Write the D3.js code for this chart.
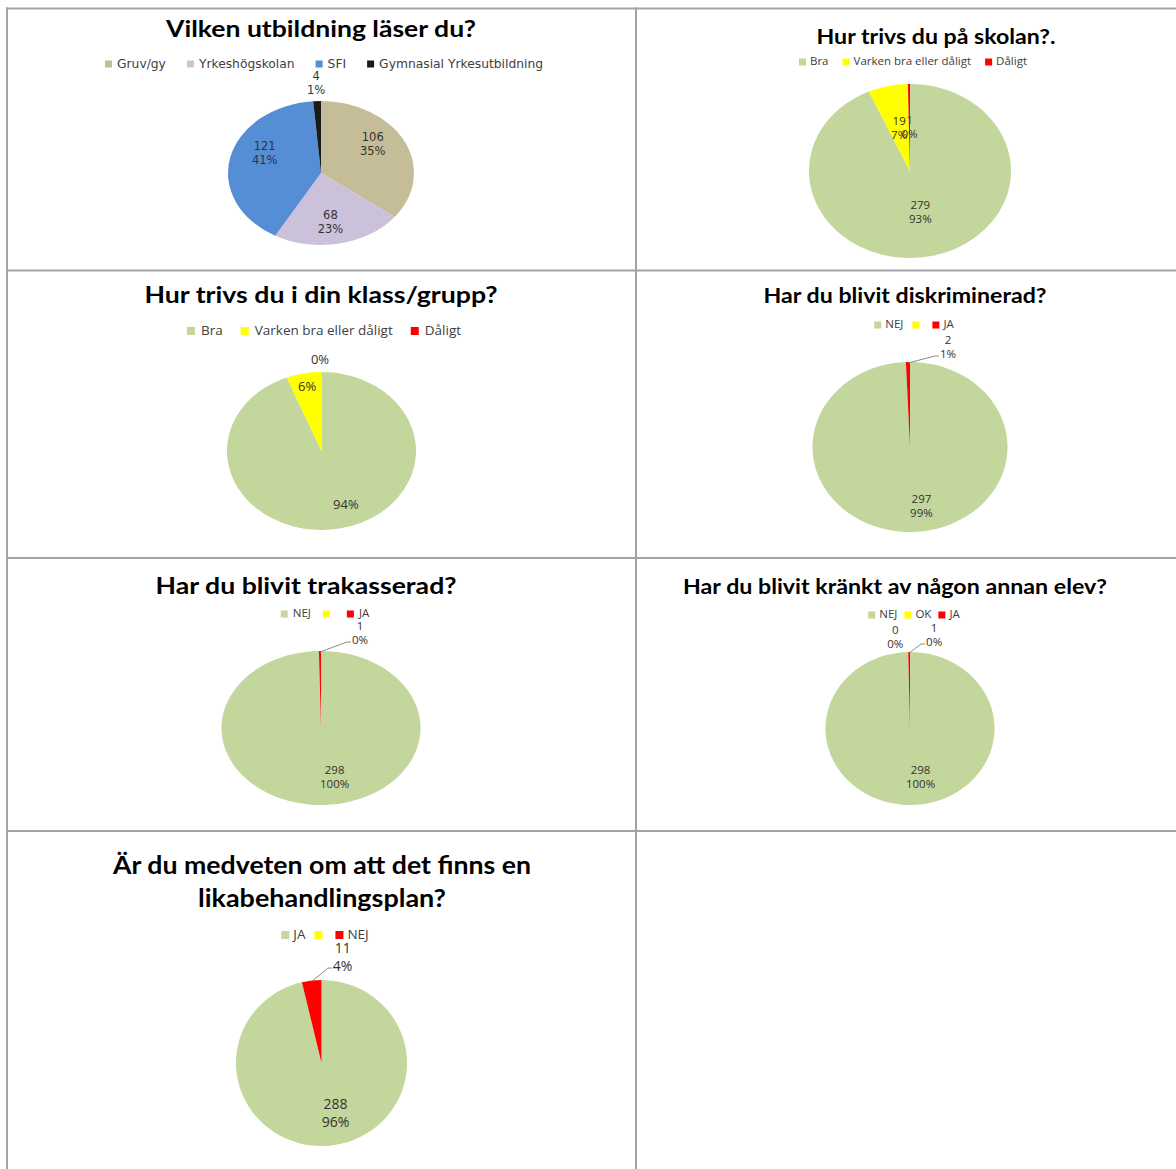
<!DOCTYPE html>
<html lang="sv">
<head>
<meta charset="UTF-8">
<title>Enkätresultat</title>
<script src="https://d3js.org/d3.v7.min.js"></script>
<style>
  body { margin: 0; background: #fff; }
  .title { font-family: Lato, "Open Sans", sans-serif; font-weight: bold; fill: #000; }
  .legend text { fill: #404040; }
  .label { fill: #333; }
</style>
</head>
<body>
<svg id="chart" width="1176" height="1169"></svg>
<script>
// --- data ---
const q1Labels = ["Gruv/gy", "Yrkeshögskolan", "SFI", "Gymnasial Yrkesutbildning"];
const q1Values = [106, 68, 121, 4];
const q1Pct = [35, 23, 41, 1];

const q2Labels = ["Bra", "Varken bra eller dåligt", "Dåligt"];
const q2Values = [279, 19, 1];
const q2Pct = [93, 7, 0];

const q3Labels = ["Bra", "Varken bra eller dåligt", "Dåligt"];
const q3Values = [94, 6, 0];
const q3Pct = [94, 6, 0];

const q4Labels = ["NEJ", "", "JA"];
const q4Values = [297, 0, 2];
const q4Pct = [99, 0, 1];

const q5Labels = ["NEJ", "", "JA"];
const q5Values = [298, 0, 1];
const q5Pct = [100, 0, 0];

const q6Labels = ["NEJ", "OK", "JA"];
const q6Values = [298, 0, 1];
const q6Pct = [100, 0, 0];

const q7Labels = ["JA", "", "NEJ"];
const q7Values = [288, 0, 11];
const q7Pct = [96, 0, 4];

const green = "#c3d69b", yellow = "#ffff00", red = "#ff0000";
const q1Colors = ["#c4bd97", "#ccc1da", "#558ed5", "#1a1a1a"];
const ynColors = [green, yellow, red];

// layout for each panel (the source images were stretched sideways, so titles get a fixed width)
const charts = [
  { title: ["Vilken utbildning läser du?"], titleW: [310], titleX: 321, titleY: 31, titleSize: 22,
    labels: q1Labels, values: q1Values, pct: q1Pct, colors: q1Colors,
    cx: 321, cy: 173, rx: 93, ry: 72, inFrac: 0.62,
    legendX: 324, legendY: 64, legendFont: "DejaVu Sans", legendSize: 12.3, sq: 7, pad: 5, gap: 21,
    labelFont: "DejaVu Sans", labelSize: 11.5, lead: 14, showValue: true,
    place: [{ at: "in", dx: 0, dy: -9 }, { at: "in", dx: -2, dy: 6 }, { at: "in", dx: 0, dy: -10 }, { at: "out", dx: -1, dy: -18 }] },
  { title: ["Hur trivs du på skolan?."], titleW: [239], titleX: 936, titleY: 39, titleSize: 20,
    labels: q2Labels, values: q2Values, pct: q2Pct, colors: ynColors,
    cx: 910, cy: 171, rx: 101, ry: 87, inFrac: 0.49,
    legendX: 913, legendY: 62, legendFont: "Open Sans", legendSize: 11.5, sq: 7, pad: 4, gap: 14,
    labelFont: "Open Sans", labelSize: 11.5, lead: 14, showValue: true,
    place: [{ at: "in", dx: 0, dy: 0 }, { at: "in", dx: 0, dy: 0 }, { at: "in", dx: 0, dy: 0 }] },
  { title: ["Hur trivs du i din klass/grupp?"], titleW: [353], titleX: 321, titleY: 297, titleSize: 22,
    labels: q3Labels, values: q3Values, pct: q3Pct, colors: ynColors,
    cx: 321.5, cy: 451, rx: 94.5, ry: 79, inFrac: 0.70,
    legendX: 324, legendY: 331, legendFont: "Open Sans", legendSize: 13.5, sq: 8, pad: 6, gap: 18,
    labelFont: "Open Sans", labelSize: 13, lead: 15, showValue: false,
    place: [{ at: "in", dx: 12, dy: 0 }, { at: "in", dx: -2, dy: -9 }, { at: "out", dx: -1.5, dy: -11 }] },
  { title: ["Har du blivit diskriminerad?"], titleW: [283], titleX: 905, titleY: 298, titleSize: 20,
    labels: q4Labels, values: q4Values, pct: q4Pct, colors: ynColors,
    cx: 910, cy: 447, rx: 97.5, ry: 85, inFrac: 0.70,
    legendX: 914, legendY: 325, legendFont: "Open Sans", legendSize: 11.5, sq: 7, pad: 4, gap: 9,
    labelFont: "Open Sans", labelSize: 11.5, lead: 14, showValue: true,
    place: [{ at: "in", dx: 10, dy: 0 }, null, { at: "out", dx: 40, dy: -14, leader: true }] },
  { title: ["Har du blivit trakasserad?"], titleW: [301], titleX: 306, titleY: 588, titleSize: 22,
    labels: q5Labels, values: q5Values, pct: q5Pct, colors: ynColors,
    cx: 321, cy: 728, rx: 99.5, ry: 77, inFrac: 0.65,
    legendX: 325, legendY: 614, legendFont: "Open Sans", legendSize: 11.5, sq: 7, pad: 5, gap: 12,
    labelFont: "Open Sans", labelSize: 11.5, lead: 14, showValue: true,
    place: [{ at: "in", dx: 13, dy: 0 }, null, { at: "out", dx: 40, dy: -17, leader: true }] },
  { title: ["Har du blivit kränkt av någon annan elev?"], titleW: [424], titleX: 895, titleY: 589, titleSize: 21,
    labels: q6Labels, values: q6Values, pct: q6Pct, colors: ynColors,
    cx: 910, cy: 728.5, rx: 84.5, ry: 76.5, inFrac: 0.64,
    legendX: 914, legendY: 615, legendFont: "Open Sans", legendSize: 11.5, sq: 7, pad: 4, gap: 7,
    labelFont: "Open Sans", labelSize: 11.5, lead: 14, showValue: true,
    place: [{ at: "in", dx: 10, dy: 0 }, { at: "out", dx: -13, dy: -14.5 }, { at: "out", dx: 25, dy: -16, leader: true }] },
  { title: ["Är du medveten om att det finns en", "likabehandlingsplan?"], titleW: [418, 248], titleX: 322, titleY: 868, titleSize: 25, titleLead: 33,
    labels: q7Labels, values: q7Values, pct: q7Pct, colors: ynColors,
    cx: 321.5, cy: 1063, rx: 85.5, ry: 83, inFrac: 0.62,
    legendX: 325, legendY: 935, legendFont: "Open Sans", legendSize: 13.5, sq: 8, pad: 4, gap: 9,
    labelFont: "Open Sans", labelSize: 14, lead: 18, showValue: true,
    place: [{ at: "in", dx: 8, dy: 0 }, null, { at: "out", dx: 31, dy: -22.5, leader: true }] }
];

const svg = d3.select("#chart");

// table grid behind the charts
const gridColor = "#a3a3a3";
const vLines = [7, 636];
const hLines = [8.5, 270.5, 558, 831];
svg.selectAll(".vline").data(vLines).join("line")
  .attr("x1", d => d).attr("x2", d => d).attr("y1", 7.5).attr("y2", 1169)
  .attr("stroke", gridColor).attr("stroke-width", 2);
svg.selectAll(".hline").data(hLines).join("line")
  .attr("y1", d => d).attr("y2", d => d).attr("x1", 6).attr("x2", 1176)
  .attr("stroke", gridColor).attr("stroke-width", 2);

function drawChart(c) {
  const g = svg.append("g");

  // title
  c.title.forEach((t, i) => {
    g.append("text").attr("class", "title")
      .attr("x", c.titleX).attr("y", c.titleY + i * (c.titleLead || 0))
      .attr("text-anchor", "middle").attr("dominant-baseline", "middle")
      .attr("textLength", c.titleW[i]).attr("lengthAdjust", "spacingAndGlyphs")
      .style("font-size", c.titleSize + "px").text(t);
  });

  // legend, centred on legendX
  const lg = g.append("g").attr("class", "legend")
    .style("font-family", c.legendFont).style("font-size", c.legendSize + "px");
  const items = c.labels.map((l, i) => {
    const it = lg.append("g");
    it.append("rect").attr("width", c.sq).attr("height", c.sq)
      .attr("y", c.legendY - c.sq / 2).attr("fill", c.colors[i]);
    const t = it.append("text").attr("x", c.sq + c.pad).attr("y", c.legendY)
      .attr("dominant-baseline", "middle").text(l);
    return { it, w: c.sq + c.pad + (l ? t.node().getComputedTextLength() : 0) };
  });
  const totalW = d3.sum(items, d => d.w) + c.gap * (items.length - 1);
  let x0 = c.legendX - totalW / 2;
  items.forEach(d => { d.it.attr("transform", `translate(${x0},0)`); x0 += d.w + c.gap; });

  // pie, squashed to an ellipse like the original
  const rows = c.labels.map((l, i) => ({ label: l, value: c.values[i], pct: c.pct[i], color: c.colors[i], place: c.place[i] }));
  const arcs = d3.pie().sort(null).value(d => d.value)(rows);
  const arc = d3.arc().innerRadius(0).outerRadius(c.rx);
  const k = c.ry / c.rx;
  g.append("g").attr("transform", `translate(${c.cx},${c.cy}) scale(1,${k})`)
    .selectAll("path").data(arcs).join("path")
    .attr("d", arc).attr("fill", d => d.data.color);

  // data labels
  const lab = g.append("g").style("font-family", c.labelFont).style("font-size", c.labelSize + "px");
  arcs.forEach(a => {
    const p = a.data.place;
    if (!p) return;
    const mid = (a.startAngle + a.endAngle) / 2;
    const ux = Math.sin(mid), uy = -Math.cos(mid);
    const f = p.at === "in" ? c.inFrac : 1;
    const ex = c.cx + ux * c.rx * f, ey = c.cy + uy * c.ry * f;
    const x = ex + p.dx, y = ey + p.dy;
    const lines = c.showValue ? [String(a.data.value), a.data.pct + "%"] : [a.data.pct + "%"];
    const off = (lines.length - 1) * c.lead / 2;
    let lastW = 0;
    lines.forEach((s, i) => {
      const t = lab.append("text").attr("class", "label")
        .attr("x", x).attr("y", y - off + i * c.lead)
        .attr("text-anchor", "middle").attr("dominant-baseline", "middle").text(s);
      lastW = t.node().getComputedTextLength();
    });
    if (p.leader) {
      const lx = x - lastW / 2 - 1, ly = y + off;
      lab.append("path")
        .attr("d", `M${ex},${ey + 1}L${lx - 4},${ly + 1}L${lx},${ly + 1}`)
        .attr("fill", "none").attr("stroke", "#8c8c8c").attr("stroke-width", 1);
    }
  });
}

charts.forEach(drawChart);
</script>
</body>
</html>
